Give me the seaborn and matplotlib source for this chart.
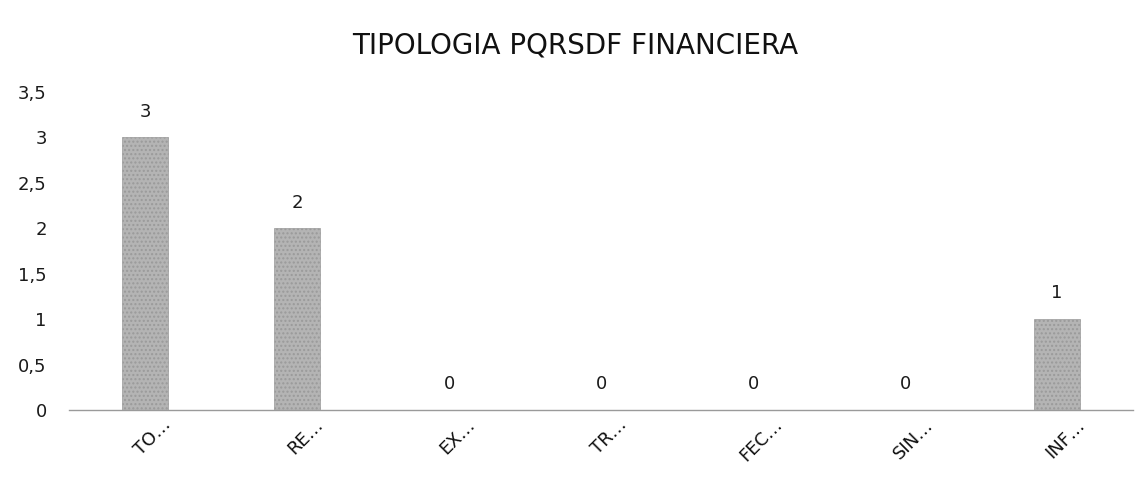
import matplotlib
matplotlib.use("Agg")
import matplotlib.pyplot as plt
import matplotlib.transforms as mtransforms
import seaborn as sns
import pandas as pd

categories = ["TO…", "RE…", "EX…", "TR…", "FEC…", "SIN…", "INF…"]
values = [3, 2, 0, 0, 0, 0, 1]
y_ticks = [0, 0.5, 1, 1.5, 2, 2.5, 3, 3.5]
y_tick_labels = ["0", "0,5", "1", "1,5", "2", "2,5", "3", "3,5"]
title = "TIPOLOGIA PQRSDF FINANCIERA"

sns.set_theme(style="white")
plt.rcParams["font.family"] = ["DejaVu Sans"]

df = pd.DataFrame({"cat": categories, "val": values})

fig = plt.figure(figsize=(11.41, 4.83), dpi=100)
ax = fig.add_axes([0.0605, 0.151, 0.9325, 0.659])

sns.barplot(data=df, x="cat", y="val", ax=ax, color="#b4b4b4", width=0.3,
            saturation=1, edgecolor="#9a9a9a", linewidth=0.5, hatch="....")

ax.set_ylim(0, 3.5)
ax.set_xlim(-0.5, len(categories) - 0.5)
ax.set_yticks(y_ticks)
ax.set_yticklabels(y_tick_labels, fontsize=13, color="#1a1a1a")
ax.set_xticks(range(len(categories)))
ax.set_xticklabels(categories, rotation=45, ha="center", fontsize=13, color="#111111")
ax.tick_params(axis="x", length=0, pad=4)
ax.tick_params(axis="y", length=0, pad=16)
offset = mtransforms.ScaledTranslation(8 / 100, 0, fig.dpi_scale_trans)
for lab in ax.get_xticklabels():
    lab.set_transform(lab.get_transform() + offset)
ax.set_xlabel("")
ax.set_ylabel("")

for s in ["top", "right", "left"]:
    ax.spines[s].set_visible(False)
ax.spines["bottom"].set_color("#9a9a9a")
ax.spines["bottom"].set_linewidth(1.0)

for i, v in enumerate(values):
    ax.annotate(str(v), (i, v), xytext=(0, 12), textcoords="offset points",
                ha="center", va="bottom", fontsize=13, color="#1a1a1a")

fig.text(0.504, 0.905, title, ha="center", va="center", fontsize=20, color="#111111")

fig.savefig("out.png", dpi=100)
